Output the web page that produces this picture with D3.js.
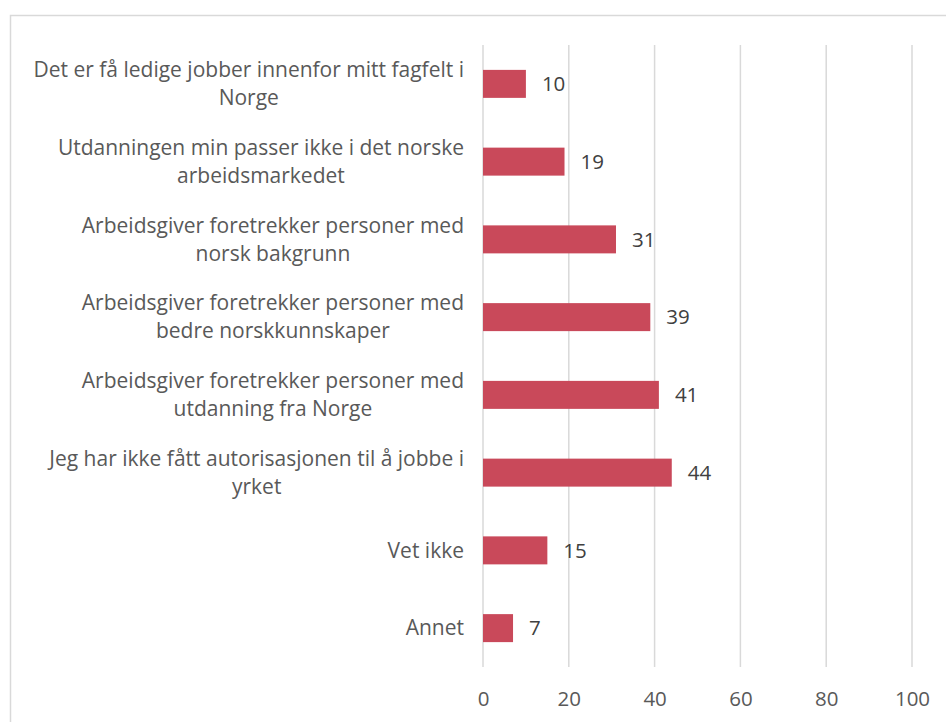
<!DOCTYPE html>
<html>
<head>
<meta charset="utf-8">
<script src="https://cdn.jsdelivr.net/npm/d3@7"></script>
<style>
  html, body { margin: 0; padding: 0; background: #fff; }
  svg { display: block; }
  text { font-family: "Open Sans", sans-serif; }
</style>
</head>
<body>
<div id="wrapper"></div>
<script>
// kategorier (linjeskift som i originalen) og verdier
const categories = [
    "Det er få ledige jobber innenfor mitt fagfelt i\nNorge",
    "Utdanningen min passer ikke i det norske\narbeidsmarkedet",
    "Arbeidsgiver foretrekker personer med\nnorsk bakgrunn",
    "Arbeidsgiver foretrekker personer med\nbedre norskkunnskaper",
    "Arbeidsgiver foretrekker personer med\nutdanning fra Norge",
    "Jeg har ikke fått autorisasjonen til å jobbe i\nyrket",
    "Vet ikke",
    "Annet"
];
const values = [10, 19, 31, 39, 41, 44, 15, 7];
const xTicks = [0, 20, 40, 60, 80, 100];

function buildPlot() {
    const dimension = {
        width: 946,
        height: 722,
        margin: { top: 45, left: 483, bottom: 55, right: 34 }
    };
    dimension.boundedWidth = dimension.width - dimension.margin.left - dimension.margin.right;
    dimension.boundedHeight = dimension.height - dimension.margin.top - dimension.margin.bottom;

    const svg = d3.select("#wrapper").append("svg")
        .attr("width", dimension.width)
        .attr("height", dimension.height);

    // ramme rundt diagrammet
    svg.append("rect")
        .attr("x", 10.5).attr("y", 15.5)
        .attr("width", dimension.width).attr("height", dimension.height)
        .attr("fill", "none")
        .attr("stroke", "#D9D9D9")
        .attr("stroke-width", 1.5);

    const bounded = svg.append("g")
        .attr("transform", `translate(${dimension.margin.left},${dimension.margin.top})`);

    const xScaler = d3.scaleLinear()
        .domain([0, 100])
        .range([0, dimension.boundedWidth]);

    const yScaler = d3.scaleBand()
        .domain(categories)
        .range([0, dimension.boundedHeight])
        .paddingInner(0.64)
        .paddingOuter(0.32);

    // gitterlinjer
    bounded.append("g")
        .selectAll("line")
        .data(xTicks)
        .join("line")
        .attr("x1", d => xScaler(d)).attr("x2", d => xScaler(d))
        .attr("y1", 0).attr("y2", dimension.boundedHeight)
        .attr("stroke", "#D9D9D9")
        .attr("stroke-width", 1.5);

    // x-akse (kun tekst)
    const xAxisGenerator = d3.axisBottom(xScaler).tickValues(xTicks).tickSize(0).tickPadding(24);
    const xAxis = bounded.append("g")
        .attr("transform", `translate(0,${dimension.boundedHeight})`)
        .call(xAxisGenerator);
    xAxis.select(".domain").remove();
    xAxis.selectAll("text")
        .attr("font-family", "Open Sans, sans-serif")
        .attr("font-size", 20.5)
        .attr("fill", "#595959");

    // søyler
    bounded.append("g")
        .selectAll("rect")
        .data(values)
        .join("rect")
        .attr("x", xScaler(0))
        .attr("y", (d, i) => yScaler(categories[i]))
        .attr("width", d => xScaler(d) - xScaler(0))
        .attr("height", yScaler.bandwidth())
        .attr("fill", "#C9495A");

    // verdietiketter
    bounded.append("g")
        .selectAll("text")
        .data(values)
        .join("text")
        .attr("x", d => xScaler(d) + 16)
        .attr("y", (d, i) => yScaler(categories[i]) + yScaler.bandwidth() / 2)
        .attr("dy", "0.35em")
        .attr("font-size", 20.5)
        .attr("fill", "#404040")
        .text(d => d);

    // kategoritekster, sentrert blokk høyrejustert mot aksen
    const rightEdge = -19;
    const lineHeight = 28;
    const labels = bounded.append("g")
        .selectAll("text")
        .data(categories)
        .join("text")
        .attr("font-size", 21)
        .attr("fill", "#595959")
        .attr("text-anchor", "middle");

    labels.each(function (d) {
        const lines = d.split("\n");
        const cy = yScaler(d) + yScaler.bandwidth() / 2;
        const t = d3.select(this);
        const spans = t.selectAll("tspan")
            .data(lines)
            .join("tspan")
            .attr("y", (l, j) => cy + (j - (lines.length - 1) / 2) * lineHeight)
            .attr("dy", "0.35em")
            .text(l => l);
        let maxW = 0;
        spans.each(function () { maxW = Math.max(maxW, this.getComputedTextLength()); });
        spans.attr("x", rightEdge - maxW / 2);
    });
}

buildPlot();
</script>
</body>
</html>
